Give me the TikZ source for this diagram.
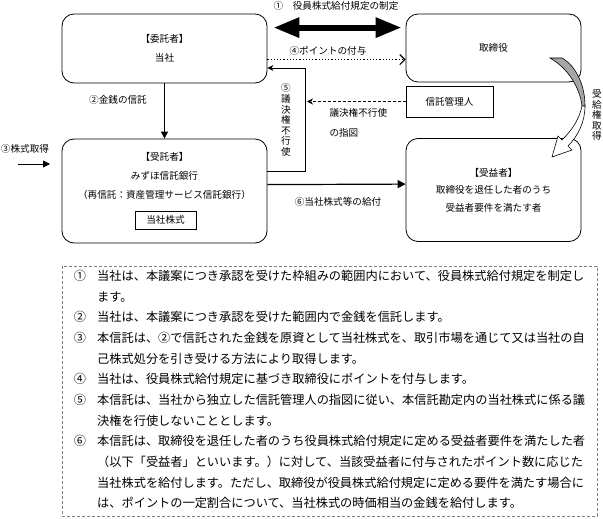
\documentclass[tikz,border=0pt]{standalone}
\usepackage{fontspec}
\setmainfont{Noto Sans CJK JP}
\usetikzlibrary{arrows.meta, positioning}

\begin{document}
\begin{tikzpicture}[x=1pt, y=-1pt,
  rbox/.style={draw, rounded corners=12pt, line width=0.8pt},
  sbox/.style={draw, line width=0.8pt, inner sep=0pt},
  small/.style={font=\fontsize{9.6}{11}\selectfont},
  vtext/.style={align=center, inner sep=0pt, font=\fontsize{9.6}{10.6}\selectfont},
  conn/.style={line width=0.8pt},
  body/.style={font=\fontsize{12.2}{14}\selectfont, inner sep=0pt}]
    \useasboundingbox (0,0) rectangle (603,519);

    % Define the boxes
    \node[rbox, minimum width=205pt, minimum height=69pt, align=center,
          font=\fontsize{9.6}{19}\selectfont] (itaku) at (164.5,48.5) {【委託者】\\当社};
    \node[rbox, minimum width=175pt, minimum height=68pt, small] (tori) at (493.5,48) {取締役};
    \node[sbox, minimum width=87pt, minimum height=31pt, small] (kanri) at (449.5,101.5) {信託管理人};
    \node[rbox, minimum width=205pt, minimum height=104pt] (jutaku) at (164.5,191) {};
    \node[align=center, font=\fontsize{9.6}{19}\selectfont] (jutxt) at (164.5,176)
          {【受託者】\\みずほ信託銀行\\（再信託：資産管理サービス信託銀行）};
    \node[sbox, minimum width=61pt, minimum height=18pt, small] (kabu) at (165.5,220) {当社株式};
    \node[rbox, minimum width=175pt, minimum height=103pt, align=center,
          font=\fontsize{9.6}{17.5}\selectfont] (jueki) at (493.5,190)
          {【受益者】\\取締役を退任した者のうち\\受益者要件を満たす者};

    % Define the connectors
    \draw[line width=6pt, {Triangle[length=26pt,width=19pt]}-{Triangle[length=26pt,width=19pt]}]
        ([xshift=6pt,yshift=-14pt]itaku.north east) -- ([xshift=-4pt,yshift=-14pt]tori.north west);
    \node[small] (seitei) at (336,6) {①\quad 役員株式給付規定の制定};

    \draw[line width=1.2pt, dotted, -{Straight Barb[length=5pt,width=10pt]}]
        ([yshift=-46pt]itaku.north east) -- ([yshift=-46pt]tori.north west);
    \node[small] (point) at (328,51) {④ポイントの付与};

    \coordinate (vtop) at (305,68);
    \coordinate (vbot) at (305,171);
    \draw[conn, -{Stealth[length=6pt,width=6pt]}] (jutaku.east |- vbot) -- (vbot) -- (vtop) -- (itaku.east |- vtop);
    \node[vtext] (fukoushi) at (286,120) {⑤\\議\\決\\権\\不\\行\\使};

    \draw[conn, dash pattern=on 3pt off 2pt, shorten >=2pt, -{Stealth[length=6pt,width=6pt]}]
        (kanri.west) -- (kanri.west -| vtop);
    \node[small, anchor=west] (sashizu1) at (326,113) {議決権不行使};
    \node[small, anchor=west] (sashizu2) at (326,133) {の指図};

    \draw[conn, -{Triangle[length=7pt,width=7pt]}] (itaku.south) -- (jutaku.north);
    \node[small] (kinsen) at (118,100) {②金銭の信託};

    \coordinate (buyS) at (18,164);
    \coordinate (buyE) at (50,164);
    \draw[conn, -{Triangle[length=7pt,width=7pt]}] (buyS) -- (buyE);
    \node[small] (shutoku) at (25,149) {③株式取得};

    \draw[line width=1.2pt, -{Triangle[length=8pt,width=8pt]}]
        ([yshift=-46pt]jutaku.north east) -- ([yshift=-46pt]jueki.north west);
    \node[small] (kyufu) at (338,202) {⑥当社株式等の給付};

    % curved arrow
    \filldraw[fill=gray!70, line width=0.6pt] (550,58) -- (562,58) .. controls (576,66) and (585,85) .. (585,106)
        -- (582,106) .. controls (580,88) and (568,68) .. (550,58) -- cycle;
    \filldraw[fill=white, line width=0.6pt] (585,106) .. controls (585,122) and (578,136) .. (568,146)
        -- (572,150) -- (552,157) -- (558,136) -- (562,140) .. controls (572,130) and (579,120) .. (582,106) -- cycle;
    \node[vtext] (jukyu) at (597,115) {受\\給\\権\\取\\得};

    % notes
    \draw[gray, line width=0.8pt, dash pattern=on 3pt off 2pt] (62,266) rectangle (597,516);
    \foreach \yy/\num in {276/①, 317.3/②, 337.9/③, 379.2/④, 399.8/⑤, 441.1/⑥}
        \node[body] (num\num) at (80,\yy) {\num};
    \foreach \i/\yy/\txt in {
        1/276/当社は、本議案につき承認を受けた枠組みの範囲内において、役員株式給付規定を制定し,
        2/296.6/ます。,
        3/317.3/当社は、本議案につき承認を受けた範囲内で金銭を信託します。,
        4/337.9/本信託は、②で信託された金銭を原資として当社株式を、取引市場を通じて又は当社の自,
        5/358.6/己株式処分を引き受ける方法により取得します。,
        6/379.2/当社は、役員株式給付規定に基づき取締役にポイントを付与します。,
        7/399.8/本信託は、当社から独立した信託管理人の指図に従い、本信託勘定内の当社株式に係る議,
        8/420.5/決権を行使しないこととします。,
        9/441.1/本信託は、取締役を退任した者のうち役員株式給付規定に定める受益者要件を満たした者,
        10/461.8/（以下「受益者」といいます。）に対して、当該受益者に付与されたポイント数に応じた,
        11/482.4/当社株式を給付します。ただし、取締役が役員株式給付規定に定める要件を満たす場合に,
        12/503/は、ポイントの一定割合について、当社株式の時価相当の金銭を給付します。}
        \node[body, anchor=west] (line\i) at (97,\yy) {\txt};
\end{tikzpicture}
\end{document}
